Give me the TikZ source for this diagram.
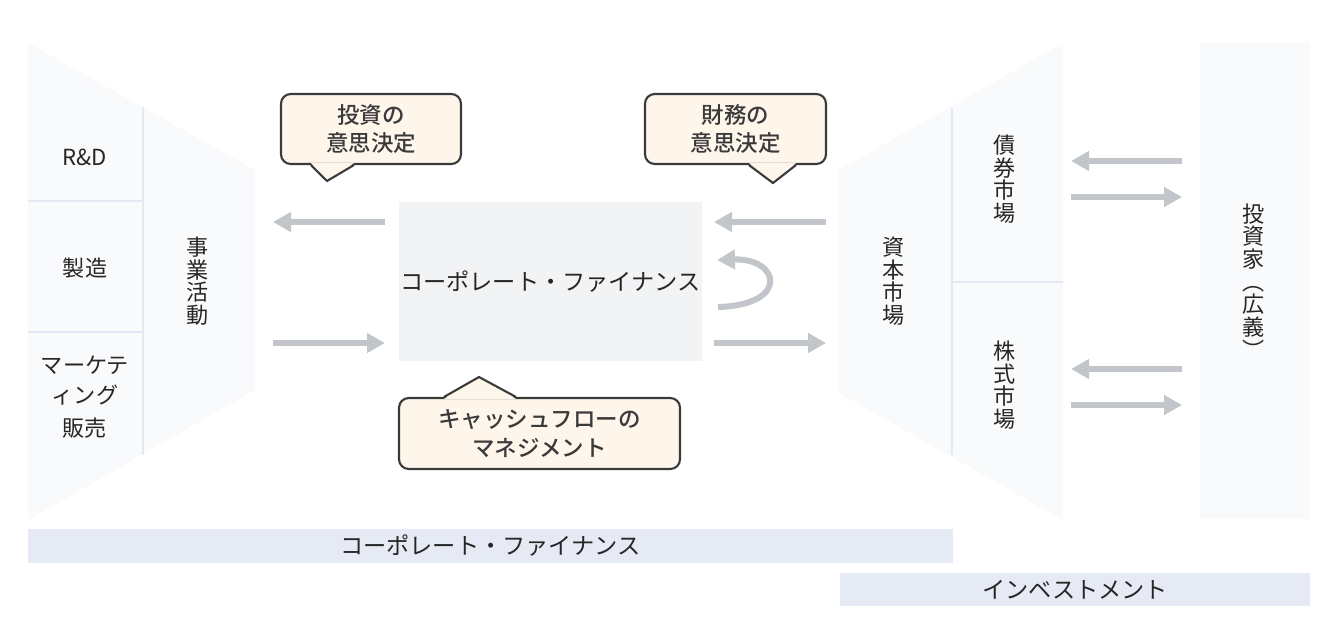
\documentclass[tikz,border=0pt]{standalone}
\usepackage{fontspec}
\setmainfont{Noto Sans CJK JP}[BoldFont={Noto Sans CJK JP Medium}]
\usetikzlibrary{arrows.meta,positioning,calc}

\definecolor{panel}{HTML}{F9FAFC}
\definecolor{divider}{HTML}{E3E8F2}
\definecolor{corefill}{HTML}{F2F3F5}
\definecolor{flowgray}{HTML}{C2C5CA}
\definecolor{notefill}{HTML}{FEF6EB}
\definecolor{noteline}{HTML}{3A3A3A}
\definecolor{barfill}{HTML}{E6EAF4}

\begin{document}
\begin{tikzpicture}[
    x=0.02cm, y=-0.02cm,
    txt/.style={text=black!85, font=\fontsize{12.6}{12.9}\selectfont, align=center, inner sep=0pt},
    core/.style={rectangle, fill=corefill, minimum width=6.06cm, minimum height=3.18cm, txt, font=\fontsize{13.2}{13.2}\selectfont},
    note/.style={rectangle, draw=noteline, fill=notefill, line width=1.2pt, rounded corners=5.5pt, text=noteline, font=\fontsize{12.8}{16.4}\selectfont\bfseries, align=center},
    bar/.style={rectangle, fill=barfill, minimum height=0.68cm, txt, font=\fontsize{13.2}{13.2}\selectfont},
    flow/.style={-{Triangle[length=0.36cm,width=0.38cm]}, flowgray, line width=3.4pt},
    divline/.style={divider, line width=1.2pt}
]
\useasboundingbox (0,0) rectangle (1344,619);

% Business activities panel
\fill[panel] (28,43) -- (255,170) -- (255,390) -- (28,520) -- cycle;
\draw[divline] (143,107) -- (143,455);
\draw[divline] (28,201) -- (143,201);
\draw[divline] (28,332) -- (143,332);
\node[txt] (rd) at (85,157) {R\&D};
\node[txt] (make) at (85,268) {製造};
\node[txt, font=\fontsize{12.6}{17}\selectfont] (sales) at (85,397) {マーケテ\\ィング\\[2pt]販売};
\node[txt] (biz) at (198,281) {事\\業\\活\\動};

% Capital markets panel
\fill[panel] (839,170) -- (1063,43) -- (1063,520) -- (839,393) -- cycle;
\draw[divline] (952,108) -- (952,455);
\draw[divline] (952,282) -- (1063,282);
\node[txt] (market) at (894,281) {資\\本\\市\\場};
\node[txt] (bond) at (1005,179) {債\\券\\市\\場};
\node[txt] (stock) at (1005,385) {株\\式\\市\\場};

% Investors
\node[rectangle, fill=panel, minimum width=2.2cm, minimum height=9.52cm] (investor) at (1255,281) {};
\node[txt] (investtxt) at (1254,281) {投\\資\\家\\︵\\広\\義\\︶};

% Corporate finance core
\node[core] (cf) at (550.5,281.5) {コーポレート・ファイナンス};

% Decision notes
\node[note, minimum width=3.6cm, minimum height=1.4cm] (invest) at (371,129) {投資の\\意思決定};
\coordinate (invest tip) at (327,181);
\fill[notefill] ($(invest.south west)+(31,-2)$) -- (invest tip) -- ($(invest.south west)+(74,-2)$) -- cycle;
\draw[noteline, line width=1.2pt] ($(invest.south west)+(31,0)$) -- (invest tip) -- ($(invest.south west)+(74,0)$);

\node[note, minimum width=3.62cm, minimum height=1.4cm] (finance) at (735.5,129) {財務の\\意思決定};
\coordinate (finance tip) at (773,183);
\fill[notefill] ($(finance.south west)+(105,-2)$) -- (finance tip) -- ($(finance.south west)+(152,-2)$) -- cycle;
\draw[noteline, line width=1.2pt] ($(finance.south west)+(105,0)$) -- (finance tip) -- ($(finance.south west)+(152,0)$);

\node[note, minimum width=5.62cm, minimum height=1.42cm] (cash) at (539.5,433.5) {キャッシュフローの\\マネジメント};
\coordinate (cash tip) at (479,377);
\fill[notefill] ($(cash.north west)+(46,2)$) -- (cash tip) -- ($(cash.north west)+(118,2)$) -- cycle;
\draw[noteline, line width=1.2pt] ($(cash.north west)+(46,0)$) -- (cash tip) -- ($(cash.north west)+(118,0)$);

% Flows between business and finance
\coordinate (cfout) at (385,222);
\coordinate (bizin) at (273,222);
\coordinate (bizout) at (273,343);
\coordinate (cfin) at (385,343);
\draw[flow] (cfout) -- (bizin);
\draw[flow] (bizout) -- (cfin);

% Flows between finance and markets
\coordinate (mktout) at (826,222);
\coordinate (cfin2) at (714,222);
\coordinate (cfout2) at (714,343);
\coordinate (mktin) at (826,343);
\draw[flow] (mktout) -- (cfin2);
\draw[flow] (cfout2) -- (mktin);

% Reinvestment loop
\coordinate (loopa) at (718,307);
\coordinate (loopb) at (717,260);
\draw[flow] (loopa) .. controls (790,305) and (780,258) .. (loopb);

% Flows between markets and investors
\coordinate (inv1) at (1182,161);
\coordinate (bond1) at (1071,161);
\coordinate (bond2) at (1071,197);
\coordinate (inv2) at (1182,197);
\coordinate (inv3) at (1182,369);
\coordinate (stock1) at (1071,369);
\coordinate (stock2) at (1071,405);
\coordinate (inv4) at (1182,405);
\draw[flow] (inv1) -- (bond1);
\draw[flow] (bond2) -- (inv2);
\draw[flow] (inv3) -- (stock1);
\draw[flow] (stock2) -- (inv4);

% Scope bars
\node[bar, minimum width=18.5cm] (cfbar) at (490.5,546) {コーポレート・ファイナンス};
\node[bar, minimum width=9.4cm, minimum height=0.66cm] (invbar) at (1075,589.5) {インベストメント};

\end{tikzpicture}
\end{document}
